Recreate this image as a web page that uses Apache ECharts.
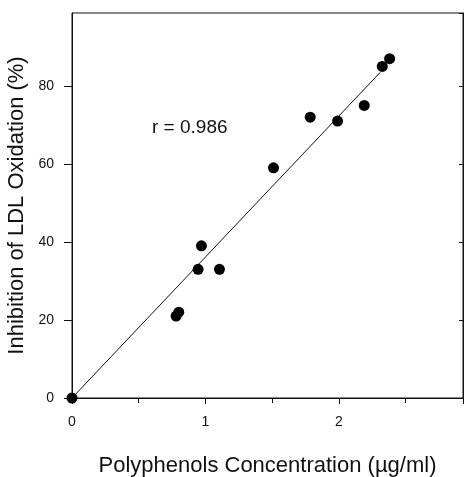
<!DOCTYPE html>
<html>
<head>
<meta charset="utf-8">
<script src="https://cdn.jsdelivr.net/npm/echarts@6/dist/echarts.min.js"></script>
<style>
  html, body { margin: 0; padding: 0; background: #fff; }
  #chart { width: 464px; height: 477px; }
</style>
</head>
<body>
<div id="chart"></div>
<script>
// Data
const concX = [0, 0.78, 0.80, 0.945, 0.97, 1.105, 1.51, 1.785, 1.99, 2.19, 2.325, 2.38];
const inhibY = [0, 21, 22, 33, 39, 33, 59, 72, 71, 75, 85, 87];
const fitX = [0, 2.31];
const fitY = [0, 83.5];
const xTicks = [0, 1, 2];
const yTicks = [0, 20, 40, 60, 80];
const rLabel = 'r = 0.986';

const font = 'Liberation Sans, Arial, sans-serif';
const ink = '#111';

const chart = echarts.init(document.getElementById('chart'), null, { renderer: 'canvas' });
chart.setOption({
  animation: false,
  backgroundColor: '#fff',
  grid: { left: 72, right: 1, top: 13, bottom: 79, show: true, borderColor: ink, borderWidth: 1,
    containLabel: false, outerBoundsMode: 'none' },
  xAxis: [{
    type: 'value', min: 0, max: 2.93, interval: 1,
    name: 'Polyphenols Concentration (\u00b5g/ml)', nameLocation: 'middle', nameGap: 57,
    nameTextStyle: { fontFamily: font, fontSize: 22, color: ink },
    axisLine: { show: true, lineStyle: { color: ink, width: 1 } },
    axisTick: { show: true, length: 6, lineStyle: { color: ink } },
    minorTick: { show: true, splitNumber: 2, length: 5, lineStyle: { color: ink } },
    axisLabel: { fontFamily: font, fontSize: 14, color: ink, margin: 17, showMaxLabel: false,
      formatter: v => (xTicks.indexOf(v) >= 0 ? String(v) : '') },
    splitLine: { show: false }
  }],
  yAxis: [{
    type: 'value', min: 0, max: 98.7, interval: 20,
    name: 'Inhibition of LDL Oxidation (%)', nameLocation: 'middle', nameGap: 37,
    nameTextStyle: { fontFamily: font, fontSize: 22, color: ink },
    axisLine: { show: true, lineStyle: { color: ink, width: 1 } },
    axisTick: { show: true, length: 8, lineStyle: { color: ink } },
    axisLabel: { fontFamily: font, fontSize: 14, color: ink, margin: 18, showMaxLabel: false,
      formatter: v => (yTicks.indexOf(v) >= 0 ? String(v) : '') },
    splitLine: { show: false }
  }, {
    type: 'value', min: 0, max: 98.7, interval: 20, position: 'right',
    axisLine: { show: true, lineStyle: { color: ink, width: 1 } },
    axisTick: { show: true, inside: true, length: 4, lineStyle: { color: ink } },
    axisLabel: { show: false },
    splitLine: { show: false }
  }],
  graphic: [{
    type: 'text', left: 152, top: 118,
    style: { text: rLabel, fontFamily: font, fontSize: 19, fill: ink }
  }],
  series: [{
    type: 'line',
    data: fitX.map((x, i) => [x, fitY[i]]),
    symbol: 'none',
    lineStyle: { color: ink, width: 1 },
    z: 2
  }, {
    type: 'scatter',
    data: concX.map((x, i) => [x, inhibY[i]]),
    symbol: 'circle', symbolSize: 11,
    itemStyle: { color: '#000', opacity: 1 },
    clip: false,
    z: 3
  }]
});
</script>
</body>
</html>
